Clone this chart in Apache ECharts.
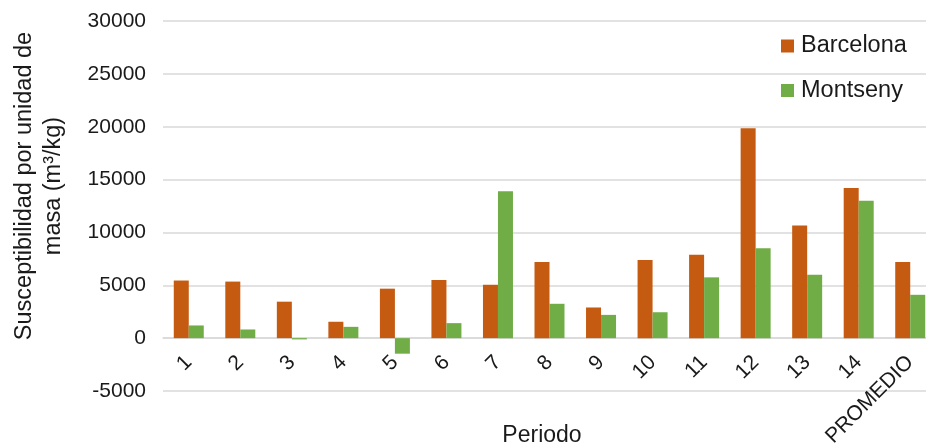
<!DOCTYPE html>
<html><head><meta charset="utf-8">
<script src="https://cdn.jsdelivr.net/npm/echarts@6/dist/echarts.min.js"></script>
<style>html,body{margin:0;padding:0;background:#fff}#c{width:926px;height:445px}</style>
</head><body><div id="c"></div>
<script>
const categories = ['1','2','3','4','5','6','7','8','9','10','11','12','13','14','PROMEDIO'];
const barcelona = [5450, 5350, 3450, 1550, 4680, 5500, 5050, 7200, 2900, 7400, 7900, 19850, 10650, 14200, 7200];
const montseny = [1200, 820, -120, 1070, -1470, 1420, 13900, 3250, 2200, 2450, 5750, 8500, 6000, 13000, 4100];
const yTicks = {min: -5000, max: 30000, interval: 5000};
const seriesNames = ['Barcelona', 'Montseny'];
const yTitle = 'Susceptibilidad por unidad de\nmasa (m³/kg)';
const xTitle = 'Periodo';

const FONT = '"Liberation Sans", Arial, sans-serif';
const GRID_H = 370;
// distance from the grid bottom (min) up to the zero line, through the y scale
const zeroOffset = -GRID_H * (0 - yTicks.min) / (yTicks.max - yTicks.min);
const chart = echarts.init(document.getElementById('c'));
chart.setOption({
  animation: false,
  textStyle: {fontFamily: FONT},
  grid: {left: 163, top: 21, width: 773, height: GRID_H, containLabel: false, outerBoundsMode: 'none'},
  legend: {
    orient: 'vertical', left: 781, top: 34, padding: 0, itemWidth: 13, itemHeight: 13, itemGap: 20.5,
    icon: 'rect',
    textStyle: {fontSize: 23.5, color: '#1a1a1a', fontFamily: FONT, padding: [0,0,0,2]},
    data: seriesNames
  },
  xAxis: {
    type: 'category', data: categories, offset: zeroOffset,
    axisLine: {onZero: false, lineStyle: {color: '#d9d9d9', width: 1.5}},
    axisTick: {show: false},
    axisLabel: {rotate: 45, fontSize: 21, color: '#1a1a1a', margin: 21, fontFamily: FONT, interval: 0}
  },
  yAxis: {
    type: 'value', min: yTicks.min, max: yTicks.max, interval: yTicks.interval,
    axisLine: {show: false}, axisTick: {show: false},
    axisLabel: {fontSize: 21, color: '#1a1a1a', margin: 17, fontFamily: FONT, formatter: v => String(v)},
    splitLine: {lineStyle: {color: '#d9d9d9', width: 1.5}}
  },
  graphic: [{
    type: 'text', x: 39, y: 186, rotation: Math.PI / 2,
    style: {text: yTitle, fontSize: 23.5, fontFamily: FONT, fill: '#1a1a1a', textAlign: 'center', textVerticalAlign: 'middle', lineHeight: 29}
  }, {
    type: 'text', x: 542, y: 436,
    style: {text: xTitle, fontSize: 23, fontFamily: FONT, fill: '#1a1a1a', textAlign: 'center', textVerticalAlign: 'middle'}
  }],
  series: [
    {name: seriesNames[0], type: 'bar', data: barcelona, barWidth: 15, barGap: '0%', itemStyle: {color: '#C55A11'}},
    {name: seriesNames[1], type: 'bar', data: montseny, barWidth: 15, barGap: '0%', itemStyle: {color: '#70AD47'}}
  ]
});
</script></body></html>
